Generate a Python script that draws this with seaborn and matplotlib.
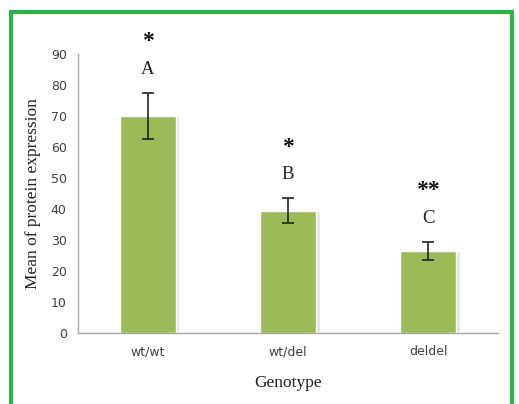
import matplotlib.pyplot as plt
import matplotlib.patches as mpatches
import pandas as pd
import seaborn as sns

# --- data ---
genotypes = ["wt/wt", "wt/del", "deldel"]
means = [70.0, 39.5, 26.5]
errors = [7.5, 4.0, 3.0]
letters = ["A", "B", "C"]
stars = ["*", "*", "**"]

BAR_GREEN = "#9BBB59"
FRAME_GREEN = "#2DB34A"

sns.set_style("white")
plt.rcParams["font.family"] = ["DejaVu Sans"]

df = pd.DataFrame({"genotype": genotypes, "mean": means})

fig = plt.figure(figsize=(5.19, 4.04), dpi=100)
ax = fig.add_axes([0.150, 0.176, 0.810, 0.690])

sns.barplot(data=df, x="genotype", y="mean", color=BAR_GREEN,
            width=0.4, saturation=1, errorbar=None, ax=ax, zorder=2)

# soft shadow on the right side of each bar
for i, m in enumerate(means):
    ax.bar(i + 0.212, m, width=0.025, color="#e3e3e3", zorder=1)

ax.errorbar(range(len(means)), means, yerr=errors, fmt="none",
            ecolor="#222222", elinewidth=1.2, capsize=4, capthick=1.2, zorder=3)

# significance letters and stars
for i, (m, e) in enumerate(zip(means, errors)):
    ax.text(i, m + e + 7.5, letters[i], ha="center", va="center",
            family="Liberation Serif", fontsize=13.5, color="#222222")
    ax.text(i, m + e + 16.5, stars[i], ha="center", va="center",
            family="Liberation Serif", fontsize=17, fontweight="bold",
            color="#111111")

ax.set_xlim(-0.5, 2.5)
ax.set_ylim(0, 90)
ax.set_yticks(range(0, 91, 10))
ax.tick_params(axis="both", length=0, labelsize=9, colors="#404040")
ax.tick_params(axis="x", pad=9)
ax.tick_params(axis="y", pad=8)

ax.set_xlabel("Genotype", family="Liberation Serif", fontsize=12.5,
              color="#222222", labelpad=12)
ax.set_ylabel("Mean of protein expression", family="Liberation Serif",
              fontsize=12.5, color="#222222", labelpad=7)

sns.despine(ax=ax, top=True, right=True)
for side in ("left", "bottom"):
    ax.spines[side].set_color("#a6a6a6")
    ax.spines[side].set_linewidth(1.0)

# green frame around the figure (bottom edge cut off, as in reference)
frame = mpatches.Rectangle((11 / 519, -0.05), (512 - 11) / 519, 1.05 - 12 / 404,
                           transform=fig.transFigure, fill=False,
                           edgecolor=FRAME_GREEN, linewidth=3)
fig.patches.append(frame)

fig.savefig("out.png", dpi=100)
